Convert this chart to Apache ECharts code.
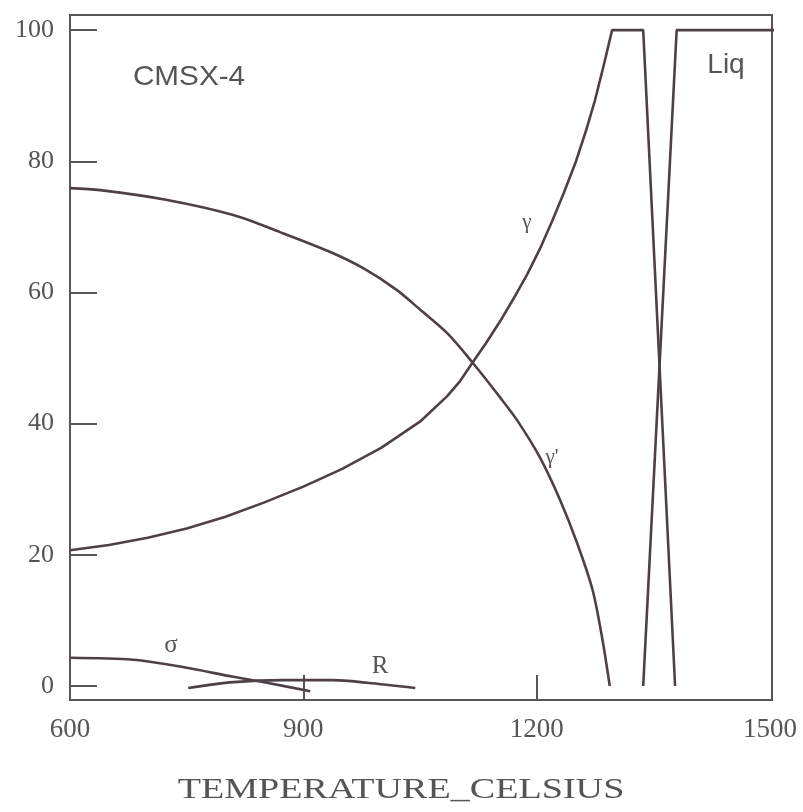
<!DOCTYPE html>
<html>
<head>
<meta charset="utf-8">
<script src="https://cdn.jsdelivr.net/npm/echarts@6/dist/echarts.min.js"></script>
<style>
  html, body { margin: 0; padding: 0; background: #ffffff; }
  #chart { width: 803px; height: 812px; }
</style>
</head>
<body>
<div id="chart"></div>
<script>
// ---- data (temperature °C, phase fraction %) ----
const gammaPrimeT = [600, 639, 725, 810, 870, 934, 977, 1020, 1050, 1085, 1117, 1153, 1175, 1204, 1230, 1252, 1272, 1285, 1294];
const gammaPrimeV = [75.9, 75.6, 74.1, 71.8, 69.2, 66.2, 63.7, 60.4, 57.4, 53.8, 49.4, 44.0, 40.5, 34.9, 28.4, 21.8, 14.6, 6.8, 0];

const gammaT = [600, 650, 700, 750, 800, 850, 900, 950, 1000, 1050, 1085, 1101, 1117, 1135, 1153, 1170, 1188, 1204, 1220, 1235, 1250, 1263, 1275, 1286, 1297, 1337, 1378];
const gammaV = [20.7, 21.5, 22.6, 24.0, 25.8, 28.0, 30.4, 33.1, 36.3, 40.3, 44.2, 46.4, 49.2, 52.3, 55.6, 59.0, 62.8, 66.6, 70.9, 75.2, 79.8, 84.5, 89.3, 94.5, 100, 100, 0];

const liqT = [1337, 1380, 1519];
const liqV = [0, 100, 100];

const sigmaT = [600, 681, 745, 810, 853, 909];
const sigmaV = [4.3, 4.0, 2.9, 1.4, 0.5, -0.8];

const rT = [752, 810, 874, 938, 982, 1044];
const rV = [-0.3, 0.6, 0.9, 0.9, 0.5, -0.3];

const xTickValues = [900, 1200];
const xLabelValues = [600, 900, 1200, 1500];
const yTickValues = [0, 20, 40, 60, 80, 100];

const xTitle = 'TEMPERATURE_CELSIUS';
const alloyName = 'CMSX-4';

// ---- build ----
const pair = (xs, ys) => xs.map((x, i) => [x, ys[i]]);
const axisColor = '#5a5558';
const curveColor = '#4e4048';

const chart = echarts.init(document.getElementById('chart'), null, { renderer: 'canvas' });

function lineSeries(name, data, smooth, clip) {
  return {
    name: name,
    type: 'line',
    data: data,
    smooth: smooth,
    showSymbol: false,
    symbol: 'none',
    clip: clip,
    lineStyle: { color: curveColor, width: 2.6 },
    emphasis: { disabled: true },
    z: 3
  };
}

const option = {
  animation: false,
  backgroundColor: '#ffffff',
  grid: {
    left: 70, right: 31, top: 15, bottom: 112,
    show: true, borderColor: axisColor, borderWidth: 2, backgroundColor: 'transparent'
  },
  xAxis: {
    type: 'value',
    min: 600, max: 1502.6,
    axisLine: { show: true, onZero: false, lineStyle: { color: axisColor, width: 2 } },
    axisTick: { show: true, inside: true, length: 25, customValues: xTickValues, lineStyle: { color: axisColor, width: 2 } },
    axisLabel: { customValues: xLabelValues, formatter: v => String(v), fontFamily: 'Liberation Serif', fontSize: 27, color: '#555', margin: 16 },
    splitLine: { show: false }
  },
  yAxis: {
    type: 'value',
    min: -2.13, max: 102.3,
    axisLine: { show: true, onZero: false, lineStyle: { color: axisColor, width: 2 } },
    axisTick: { show: true, inside: true, length: 27, customValues: yTickValues, lineStyle: { color: axisColor, width: 2 } },
    axisLabel: { customValues: yTickValues, formatter: v => String(v), fontFamily: 'Liberation Serif', fontSize: 26, color: '#555', margin: 16 },
    splitLine: { show: false }
  },
  series: [
    lineSeries("γ'", pair(gammaPrimeT, gammaPrimeV), 0.3, true),
    lineSeries('γ', pair(gammaT, gammaV), false, true),
    lineSeries('Liq', pair(liqT, liqV), false, false),
    lineSeries('σ', pair(sigmaT, sigmaV), 0.3, true),
    lineSeries('R', pair(rT, rV), 0.3, true)
  ],
  graphic: [
    { type: 'text', x: 401, y: 790, scaleX: 1.27, style: { text: xTitle, fontFamily: 'Liberation Serif', fontSize: 30, fill: '#555', align: 'center', verticalAlign: 'middle' } },
    { type: 'text', x: 189, y: 77, scaleX: 1.06, style: { text: alloyName, fontFamily: 'Liberation Sans', fontSize: 28, fill: '#555', align: 'center', verticalAlign: 'middle' } },
    { type: 'text', x: 726, y: 65, style: { text: 'Liq', fontFamily: 'Liberation Sans', fontSize: 28, fill: '#555', align: 'center', verticalAlign: 'middle' } },
    { type: 'text', x: 527, y: 222, style: { text: 'γ', fontFamily: 'Liberation Serif', fontSize: 21, fill: '#555', align: 'center', verticalAlign: 'middle' } },
    { type: 'text', x: 552, y: 457, style: { text: "γ'", fontFamily: 'Liberation Serif', fontSize: 21, fill: '#555', align: 'center', verticalAlign: 'middle' } },
    { type: 'text', x: 171, y: 645, style: { text: 'σ', fontFamily: 'Liberation Serif', fontSize: 25, fill: '#555', align: 'center', verticalAlign: 'middle' } },
    { type: 'text', x: 380, y: 666, style: { text: 'R', fontFamily: 'Liberation Serif', fontSize: 25, fill: '#555', align: 'center', verticalAlign: 'middle' } }
  ]
};

chart.setOption(option);
</script>
</body>
</html>
